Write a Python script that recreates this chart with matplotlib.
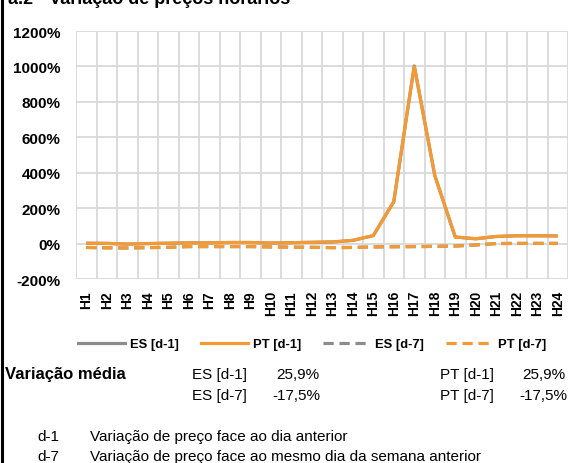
import matplotlib
matplotlib.use("Agg")
import matplotlib.pyplot as plt
from matplotlib.lines import Line2D
import numpy as np

plt.rcParams['font.family'] = ['Liberation Sans', 'DejaVu Sans']

hours = [f"H{i}" for i in range(1, 25)]
pt_d1 = [2, 1, -3, 0, 2, 4, 4, 6, 6, 3, 5, 7, 9, 18, 45, 236, 1003, 385, 37, 27, 40, 44, 44, 43]
es_d1 = [2, 1, -3, 0, 2, 4, 4, 6, 6, 3, 5, 7, 9, 18, 45, 236, 1003, 385, 37, 27, 40, 44, 44, 43]
pt_d7 = [-22, -24, -25, -23, -21, -17, -17, -17, -17, -19, -20, -21, -23, -22, -19, -18, -17, -16, -14, -8, 0, 1, 1, 1]
es_d7 = [-22, -24, -25, -23, -21, -17, -17, -17, -17, -19, -20, -21, -23, -22, -19, -18, -17, -16, -14, -8, 0, 1, 1, 1]
yticks = [-200, 0, 200, 400, 600, 800, 1000, 1200]
series_names = ["ES [d-1]", "PT [d-1]", "ES [d-7]", "PT [d-7]"]

ORANGE = "#F39A35"
GRAY = "#8C8C8C"
GRID = "#D9D9D9"

fig = plt.figure(figsize=(5.79, 4.64), dpi=100)
ax = fig.add_axes([76/579, 1-280/464, (568-76)/579, (280-32)/464])

x = np.arange(len(hours)) + 0.5
dash = (3.2, 1.8)
ax.plot(x, es_d1, color=GRAY, lw=2.3, solid_capstyle='butt', zorder=3)
ax.plot(x, es_d7, color=GRAY, lw=2.3, ls=(0, dash), zorder=3)
ax.plot(x, pt_d1, color=ORANGE, lw=2.3, solid_capstyle='butt', solid_joinstyle='miter', zorder=4)
ax.plot(x, pt_d7, color=ORANGE, lw=2.3, ls=(0, dash), zorder=4)

ax.set_xlim(0, 24)
ax.set_ylim(-200, 1200)
ax.set_yticks(yticks)
ax.set_yticklabels([f"{v}%" for v in yticks], fontsize=11, fontweight='bold')
ax.set_xticks(x)
ax.set_xticklabels(hours, rotation=90, fontsize=10, fontweight='bold')
ax.set_xticks(np.arange(0, 25), minor=True)
ax.tick_params(axis='both', which='both', length=0)
ax.tick_params(axis='y', pad=11)
ax.tick_params(axis='x', pad=8)
ax.grid(True, axis='y', which='major', color=GRID, lw=1.3, zorder=0)
ax.grid(True, axis='x', which='minor', color=GRID, lw=1.3, zorder=0)
ax.grid(False, axis='x', which='major')
for s in ax.spines.values():
    s.set_visible(False)
ax.set_axisbelow(True)

handles = [
    Line2D([0], [0], color=GRAY, lw=2.3),
    Line2D([0], [0], color=ORANGE, lw=2.3),
    Line2D([0], [0], color=GRAY, lw=2.3, ls=(0, dash)),
    Line2D([0], [0], color=ORANGE, lw=2.3, ls=(0, dash)),
]
leg = fig.legend(handles, series_names, loc='center', bbox_to_anchor=(312/579, 1-345/464),
                 ncol=4, frameon=False, handlelength=3.6, handletextpad=0.38,
                 columnspacing=1.7, borderaxespad=0, borderpad=0,
                 prop={'weight': 'bold', 'size': 9.4})

# Title (cut off at top, as in the reference)
fig.text(8/579, 1-4/464, "a.2 - Variação de preços horários", fontsize=13, fontweight='bold',
         va='baseline', ha='left')

# Average variation block
fs = 11
r1 = 1-375/464
r2 = 1-396/464
fig.text(5/579, r1, "Variação média", fontsize=12, fontweight='bold', va='center', ha='left')
fig.text(192/579, r1, "ES [d-1]", fontsize=fs, va='center', ha='left')
fig.text(319/579, r1, "25,9%", fontsize=fs, va='center', ha='right')
fig.text(192/579, r2, "ES [d-7]", fontsize=fs, va='center', ha='left')
fig.text(320/579, r2, "-17,5%", fontsize=fs, va='center', ha='right')
fig.text(440/579, r1, "PT [d-1]", fontsize=fs, va='center', ha='left')
fig.text(565/579, r1, "25,9%", fontsize=fs, va='center', ha='right')
fig.text(440/579, r2, "PT [d-7]", fontsize=fs, va='center', ha='left')
fig.text(567/579, r2, "-17,5%", fontsize=fs, va='center', ha='right')

fig.text(37/579, 1-437/464, "d-1", fontsize=fs, va='center', ha='left')
fig.text(90/579, 1-437/464, "Variação de preço face ao dia anterior", fontsize=fs, va='center', ha='left')
fig.text(37/579, 1-457/464, "d-7", fontsize=fs, va='center', ha='left')
fig.text(90/579, 1-457/464, "Variação de preço face ao mesmo dia da semana anterior", fontsize=fs, va='center', ha='left')

# left border bar
fig.add_artist(Line2D([1.5/579, 1.5/579], [0, 1], transform=fig.transFigure, color='black', lw=2.2))

fig.savefig("out.png", dpi=100)
